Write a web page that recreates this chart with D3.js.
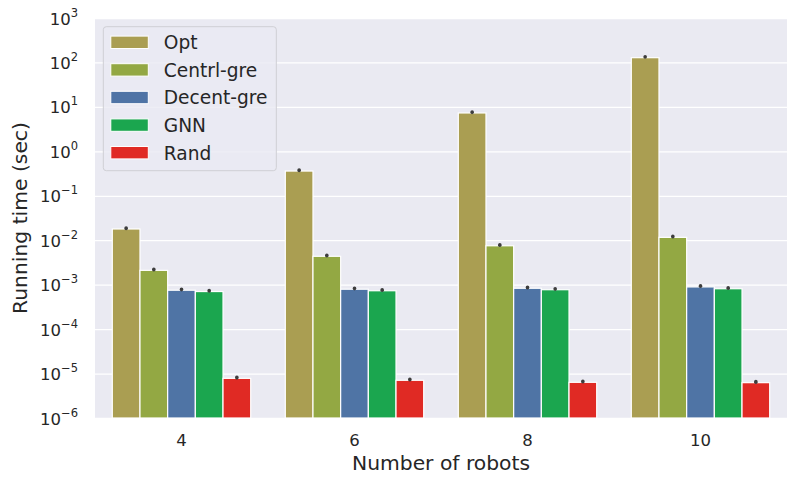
<!DOCTYPE html>
<html>
<head>
<meta charset="utf-8">
<script src="https://cdn.jsdelivr.net/npm/d3@7"></script>
<style>
  body { margin: 0; background: #fff; }
  svg text { font-family: "DejaVu Sans", sans-serif; fill: #262626; }
</style>
</head>
<body>
<div id="chart"></div>
<script>
// ---- Data ------------------------------------------------------------------
const robots  = ['4', '6', '8', '10'];
const methods = ['Opt', 'Centrl-gre', 'Decent-gre', 'GNN', 'Rand'];
const colors  = ['#aa9e52', '#93a843', '#4f74a5', '#1ba64f', '#e02a24'];

// mean running time (sec) per method, one value per robot count
const optTime     = [0.0179, 0.36, 7.3, 128];
const centrlTime  = [0.0021, 0.00435, 0.0075, 0.0116];
const decentTime  = [7.5e-4, 7.9e-4, 8.3e-4, 8.9e-4];
const gnnTime     = [7.0e-4, 7.3e-4, 7.7e-4, 8.1e-4];
const randTime    = [7.8e-6, 7.05e-6, 6.35e-6, 6.24e-6];
const seriesVals  = [optTime, centrlTime, decentTime, gnnTime, randTime];

// relative half-width of the confidence interval (tiny)
const ciRel = [0.01, 0.01, 0.01, 0.01, 0.015];

const yTicks = [-6, -5, -4, -3, -2, -1, 0, 1, 2, 3];

// ---- Layout ----------------------------------------------------------------
const W = 798, H = 486;
const M = { top: 18, right: 11, bottom: 68, left: 95 };

const svg = d3.select('#chart').append('svg')
  .attr('width', W).attr('height', H);

const x  = d3.scaleBand().domain(robots).range([M.left, W - M.right]).padding(0);
const xi = d3.scaleBand().domain(methods).range([0, x.bandwidth() * 0.8]).padding(0);
const y  = d3.scaleLog().domain([1e-6, 1e3]).range([H - M.bottom, M.top]);

// background
svg.append('rect')
  .attr('x', M.left).attr('y', M.top)
  .attr('width', W - M.left - M.right).attr('height', H - M.top - M.bottom)
  .attr('fill', '#eaeaf2');

// y grid + labels
const yAxis = svg.append('g')
  .attr('transform', `translate(${M.left},0)`)
  .call(d3.axisLeft(y)
    .tickValues(yTicks.map(e => Math.pow(10, e)))
    .tickFormat('')
    .tickSize(-(W - M.left - M.right)))
  .call(g => g.select('.domain').remove())
  .call(g => g.selectAll('.tick line').attr('stroke', '#fff').attr('stroke-width', 1.3));

yAxis.selectAll('.tick').each(function (d) {
  const e = Math.round(Math.log10(d));
  const t = d3.select(this).append('text')
    .attr('x', -17).attr('y', 6)
    .attr('text-anchor', 'end')
    .style('font-size', '16.5px');
  t.append('tspan').text('10');
  t.append('tspan').attr('dy', -8).style('font-size', '11.5px')
    .text(e < 0 ? '\u2212' + (-e) : String(e));
});

// x axis labels
svg.append('g')
  .attr('transform', `translate(0,${H - M.bottom})`)
  .call(d3.axisBottom(x).tickSize(0).tickPadding(16))
  .call(g => g.select('.domain').remove())
  .call(g => g.selectAll('text').style('font-size', '16.5px').attr('fill', '#262626'));

// ---- Bars ------------------------------------------------------------------
const groupOffset = x.bandwidth() * 0.1;
methods.forEach((m, si) => {
  const vals = seriesVals[si];
  const g = svg.append('g');
  g.selectAll('rect').data(vals).join('rect')
    .attr('x', (d, i) => x(robots[i]) + groupOffset + xi(m))
    .attr('width', xi.bandwidth())
    .attr('y', d => y(d))
    .attr('height', d => y(1e-6) - y(d))
    .attr('fill', colors[si])
    .attr('stroke', '#fff').attr('stroke-width', 1.2);

  // error bars (tiny CI, shows as a dot)
  g.selectAll('line').data(vals).join('line')
    .attr('x1', (d, i) => x(robots[i]) + groupOffset + xi(m) + xi.bandwidth() / 2)
    .attr('x2', (d, i) => x(robots[i]) + groupOffset + xi(m) + xi.bandwidth() / 2)
    .attr('y1', d => y(d * (1 - ciRel[si])) - 0.8)
    .attr('y2', d => y(d * (1 + ciRel[si])) - 0.8)
    .attr('stroke', '#3d3d3d').attr('stroke-width', 3.6).attr('stroke-linecap', 'round');
});

// ---- Axis titles -----------------------------------------------------------
svg.append('text')
  .attr('x', (M.left + W - M.right) / 2).attr('y', 470)
  .attr('text-anchor', 'middle').style('font-size', '20.3px')
  .text('Number of robots');

svg.append('text')
  .attr('transform', `translate(27,${(M.top + H - M.bottom) / 2}) rotate(-90)`)
  .attr('text-anchor', 'middle').style('font-size', '20.3px')
  .text('Running time (sec)');

// ---- Legend ----------------------------------------------------------------
const lg = svg.append('g').attr('transform', 'translate(103.3,26.7)');
lg.append('rect')
  .attr('width', 173).attr('height', 144).attr('rx', 3)
  .attr('fill', '#eaeaf2').attr('fill-opacity', 0.8)
  .attr('stroke', '#cfcfd4').attr('stroke-width', 1);
methods.forEach((m, i) => {
  const row = lg.append('g').attr('transform', `translate(0,${15.6 + i * 27.6})`);
  row.append('rect')
    .attr('x', 7.5).attr('y', -6.2).attr('width', 37.5).attr('height', 12.4)
    .attr('fill', colors[i]).attr('stroke', '#fff').attr('stroke-width', 1);
  row.append('text')
    .attr('x', 60.5).attr('y', 6.8)
    .style('font-size', '18.6px')
    .text(m);
});
</script>
</body>
</html>
